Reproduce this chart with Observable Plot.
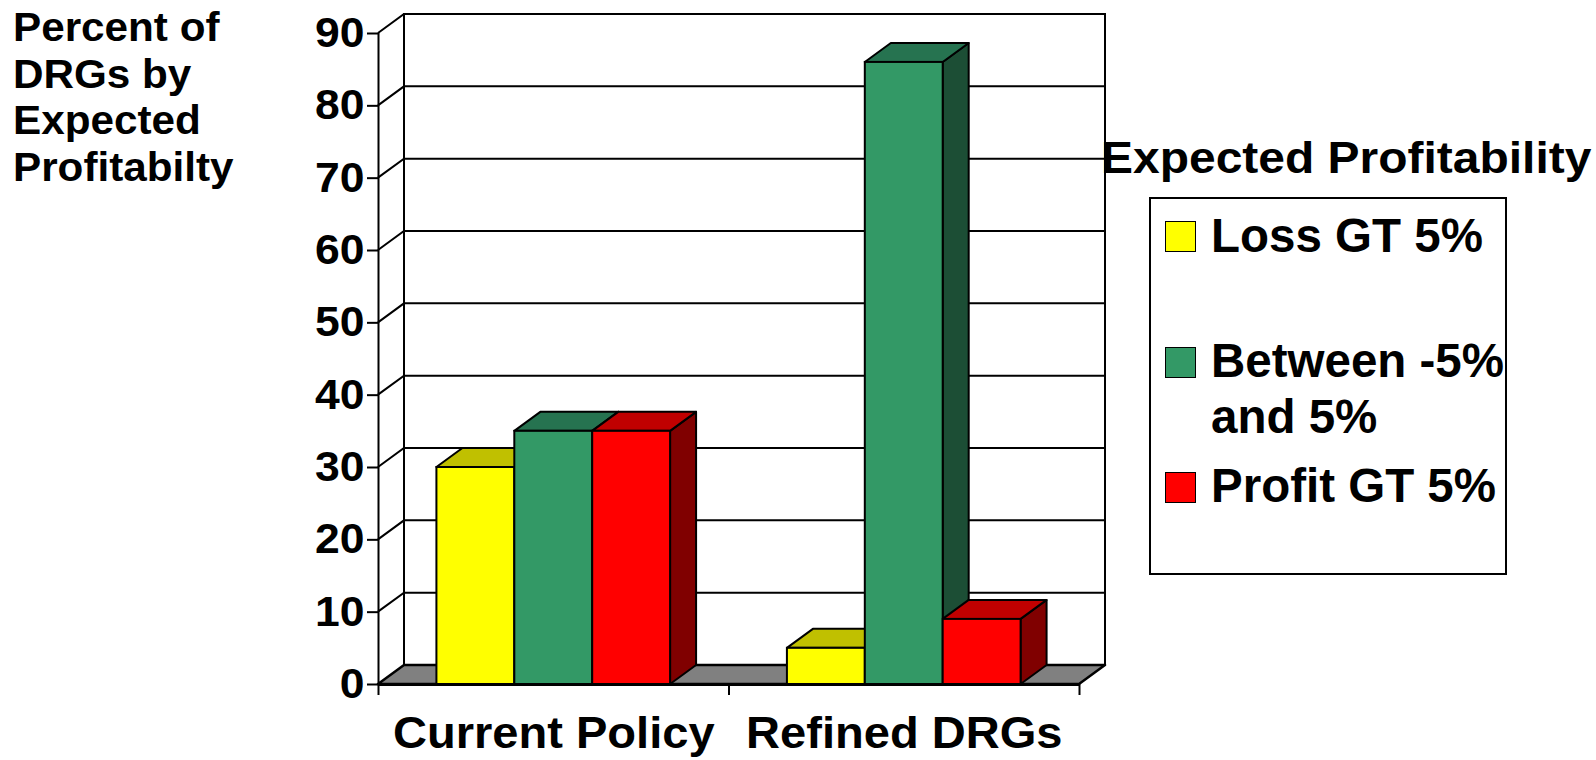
<!DOCTYPE html>
<html>
<head>
<meta charset="utf-8">
<script src="https://cdn.jsdelivr.net/npm/d3@7"></script>
<script src="https://cdn.jsdelivr.net/npm/@observablehq/plot@0.6"></script>
<style>
  body { margin: 0; background: #fff; font-family: "Liberation Sans", Arial, sans-serif; }
  #wrap { position: relative; width: 1596px; height: 760px; overflow: hidden; background: #fff; }
  #wrap > svg { position: absolute; left: 0; top: 0; }
  .txt { position: absolute; font-weight: bold; color: #000; white-space: nowrap; }
  #ytitle { left: 13px; top: 4px; font-size: 41px; line-height: 46.7px; transform: scaleX(1.03); transform-origin: left top; }
  #ltitle { left: 1101px; top: 136px; font-size: 44px; line-height: 44px; transform: scaleX(1.09); transform-origin: left top; }
  #lbox { position: absolute; left: 1149px; top: 197px; width: 358px; height: 378px; border: 2px solid #000; box-sizing: border-box; background: #fff; }
  .sw { position: absolute; left: 1165px; width: 31px; height: 31px; border: 1.5px solid #000; box-sizing: border-box; }
  .lt { left: 1211px; font-size: 47.5px; line-height: 56px; }
</style>
</head>
<body>
<div id="wrap"></div>
<script>
// ---- data ----
const categories = ["Current Policy", "Refined DRGs"];
const seriesNames = ["Loss GT 5%", "Between -5% and 5%", "Profit GT 5%"];
const lossValues = [30, 5];
const betweenValues = [35, 86];
const profitValues = [35, 9];
const yTicks = [0, 10, 20, 30, 40, 50, 60, 70, 80, 90];
const yTitleLines = ["Percent of", "DRGs by", "Expected", "Profitabilty"];
const legendTitle = "Expected Profitability";
const legendLabels = ["Loss GT 5%", "Between -5%\nand 5%", "Profit GT 5%"];

// ---- styles ----
const frontColors = ["#ffff00", "#339966", "#ff0000"];
const topColors = ["#c0c000", "#267350", "#c00000"];
const sideColors = ["#808000", "#1c4e35", "#800000"];
const DEPTH = {dx: 26, dy: -19};

const seriesValues = [lossValues, betweenValues, profitValues];
const barW = 2 / 9, groupPad = 1 / 6;
const bars = categories.flatMap((category, ci) =>
  seriesNames.map((series, k) => ({
    category, series, k,
    value: seriesValues[k][ci],
    x1: ci + groupPad + k * barW,
    x2: ci + groupPad + (k + 1) * barW
  }))
);

const pts = a => a.map(p => p.join(",")).join(" ");

function walls(index, scales) {
  const {x, y} = scales;
  const {dx, dy} = DEPTH;
  const g = d3.create("svg:g");
  const xa = x(0), xb = x(2), y0 = y(0), yTop = y(d3.max(yTicks));
  g.append("polygon")
    .attr("points", pts([[xa + dx, yTop + dy], [xb + dx, yTop + dy], [xb + dx, y0 + dy], [xa + dx, y0 + dy]]))
    .attr("fill", "#fff").attr("stroke", "#000").attr("stroke-width", 2);
  for (const t of yTicks) {
    if (t === 0) continue;
    g.append("polyline")
      .attr("points", pts([[xa, y(t)], [xa + dx, y(t) + dy], [xb + dx, y(t) + dy]]))
      .attr("fill", "none").attr("stroke", "#000").attr("stroke-width", 2);
  }
  g.append("polygon")
    .attr("points", pts([[xa, y0], [xb, y0], [xb + dx, y0 + dy], [xa + dx, y0 + dy]]))
    .attr("fill", "#808080").attr("stroke", "#000").attr("stroke-width", 2.5).attr("stroke-linejoin", "round");
  return g.node();
}

function barFaces(index, scales) {
  const {x, y} = scales;
  const {dx, dy} = DEPTH;
  const g = d3.create("svg:g");
  for (const b of bars) {
    const X = x(b.x2), Y0 = y(0), Y1 = y(b.value);
    g.append("polygon")
      .attr("points", pts([[X, Y0], [X + dx, Y0 + dy], [X + dx, Y1 + dy], [X, Y1]]))
      .attr("fill", sideColors[b.k]).attr("stroke", "#000").attr("stroke-width", 2).attr("stroke-linejoin", "round");
  }
  for (const b of bars) {
    const XA = x(b.x1), XB = x(b.x2), Y1 = y(b.value);
    g.append("polygon")
      .attr("points", pts([[XA, Y1], [XA + dx, Y1 + dy], [XB + dx, Y1 + dy], [XB, Y1]]))
      .attr("fill", topColors[b.k]).attr("stroke", "#000").attr("stroke-width", 2).attr("stroke-linejoin", "round");
  }
  return g.node();
}

const chart = Plot.plot({
  width: 1596,
  height: 760,
  marginLeft: 378,
  marginRight: 517,
  marginTop: 33,
  marginBottom: 76,
  style: {fontFamily: "'Liberation Sans', Arial, sans-serif", color: "#000", background: "transparent", overflow: "visible"},
  x: {domain: [0, categories.length]},
  y: {domain: [0, d3.max(yTicks)]},
  color: {domain: seriesNames, range: frontColors},
  marks: [
    walls,
    barFaces,
    Plot.rectY(bars, {x1: "x1", x2: "x2", y: "value", fill: "series", stroke: "#000", strokeWidth: 2}),
    Plot.ruleX([0], {y1: 0, y2: d3.max(yTicks), strokeWidth: 2}),
    Plot.ruleY([0], {x1: 0, x2: categories.length, strokeWidth: 3}),
    Plot.axisY(yTicks, {anchor: "left", tickSize: 11, tickPadding: 3, fontSize: 42, fontWeight: "bold", strokeWidth: 2, label: null}),
    Plot.axisX(d3.range(categories.length + 1), {tickSize: 11, tickFormat: () => "", strokeWidth: 2, label: null}),
    Plot.axisX(categories.map((c, i) => i + 0.5), {tickSize: 0, tickPadding: 32, tickFormat: v => categories[Math.floor(v)], fontSize: 44, fontWeight: "bold", label: null})
  ]
});

// horizontal stretch of tick labels as in the reference
chart.querySelectorAll('g[aria-label="x-axis tick label"] text').forEach(t => {
  const tr = t.getAttribute("transform");
  if (tr && t.textContent) t.setAttribute("transform", tr + " scale(1.07,1)");
});
chart.querySelectorAll('g[aria-label="y-axis tick label"] text').forEach(t => {
  const tr = t.getAttribute("transform");
  if (tr) t.setAttribute("transform", tr + " scale(1.06,1)");
});

const wrap = document.getElementById("wrap");
wrap.appendChild(chart);

// y-axis title
const yt = document.createElement("div");
yt.className = "txt"; yt.id = "ytitle";
yt.innerHTML = yTitleLines.join("<br>");
wrap.appendChild(yt);

// legend
const lt = document.createElement("div");
lt.className = "txt"; lt.id = "ltitle"; lt.textContent = legendTitle;
wrap.appendChild(lt);
const box = document.createElement("div"); box.id = "lbox"; wrap.appendChild(box);
const swTops = [221, 347, 472];
const textTops = [208, 333, 458];
legendLabels.forEach((label, k) => {
  const sw = document.createElement("div");
  sw.className = "sw"; sw.style.top = swTops[k] + "px"; sw.style.background = frontColors[k];
  wrap.appendChild(sw);
  const t = document.createElement("div");
  t.className = "txt lt"; t.style.top = textTops[k] + "px";
  t.innerHTML = label.split("\n").join("<br>");
  wrap.appendChild(t);
});
</script>
</body>
</html>
